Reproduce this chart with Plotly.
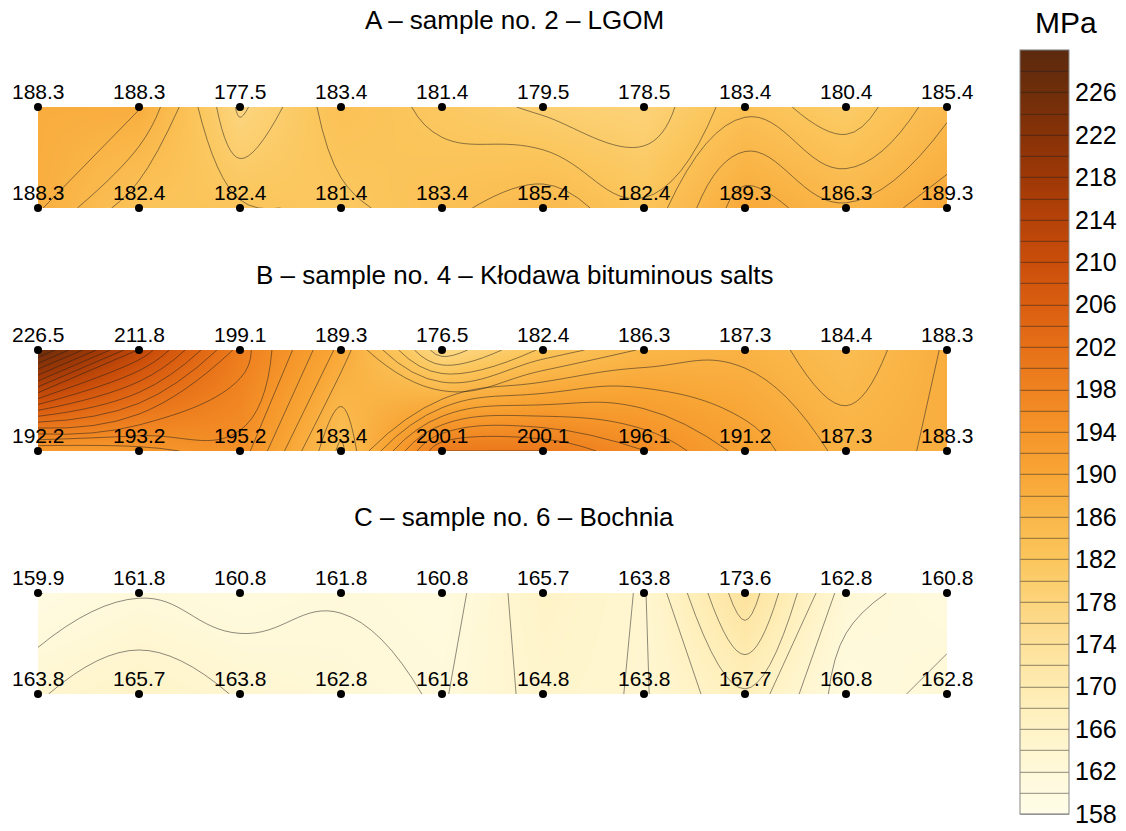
import plotly.graph_objects as go

# ---- data ----
x_pos = list(range(10))
a_top = [188.3, 188.3, 177.5, 183.4, 181.4, 179.5, 178.5, 183.4, 180.4, 185.4]
a_bottom = [188.3, 182.4, 182.4, 181.4, 183.4, 185.4, 182.4, 189.3, 186.3, 189.3]
b_top = [226.5, 211.8, 199.1, 189.3, 176.5, 182.4, 186.3, 187.3, 184.4, 188.3]
b_bottom = [192.2, 193.2, 195.2, 183.4, 200.1, 200.1, 196.1, 191.2, 187.3, 188.3]
c_top = [159.9, 161.8, 160.8, 161.8, 160.8, 165.7, 163.8, 173.6, 162.8, 160.8]
c_bottom = [163.8, 165.7, 163.8, 162.8, 161.8, 164.8, 163.8, 167.7, 160.8, 162.8]
titles = ["A \u2013 sample no. 2 \u2013 LGOM",
          "B \u2013 sample no. 4 \u2013 K\u0142odawa bituminous salts",
          "C \u2013 sample no. 6 \u2013 Bochnia"]
cb_ticks = list(range(158, 227, 4))

W, H = 1126, 831
FONT = "Liberation Sans, Arial, sans-serif"

colorscale = [
    [0.0, "#FFFDE8"], [0.0556, "#FFF9DA"], [0.111, "#FFF3C6"], [0.1667, "#FEEBB0"],
    [0.222, "#FDE19A"], [0.278, "#FCD47C"], [0.333, "#FBC65C"], [0.389, "#FAB74A"],
    [0.444, "#F8A636"], [0.5, "#F5952A"], [0.556, "#EF8220"], [0.611, "#E67018"],
    [0.667, "#DA5E10"], [0.722, "#CA4E0A"], [0.778, "#B54208"], [0.833, "#9E3806"],
    [0.889, "#873208"], [0.944, "#6F2E0A"], [1.0, "#5C2A0E"],
]

strips = [(a_top, a_bottom, 107, 208, 20),
          (b_top, b_bottom, 350, 451, 275),
          (c_top, c_bottom, 593, 694, 517)]

fig = go.Figure()
x0_px, x1_px = 38, 947

for i, (top, bot, ytop_px, ybot_px, ttl_px) in enumerate(strips):
    n = "" if i == 0 else str(i + 1)
    xa, ya = "x" + n, "y" + n
    fig.add_trace(go.Contour(
        x=x_pos, y=[0, 1], z=[bot, top],
        xaxis=xa, yaxis=ya,
        colorscale=colorscale, zmin=158, zmax=230, zauto=False,
        autocontour=False,
        contours=dict(start=158, end=230, size=2, coloring="heatmap", showlines=True),
        line=dict(color="rgba(30,30,30,0.85)", width=0.6, smoothing=1.3),
        showscale=(i == 0),
        colorbar=dict(
            x=1020 / W, xanchor="left", xpad=0,
            y=1 - 432 / H, yanchor="middle", ypad=0,
            len=764, lenmode="pixels", thickness=49, thicknessmode="pixels",
            outlinecolor="#888888", outlinewidth=1,
            tickvals=cb_ticks, ticks="", ticklen=0,
            ticklabeloverflow="allow",
            tickfont=dict(family=FONT, size=25, color="black"),
        ),
        hoverinfo="skip",
    ))
    fig.add_trace(go.Scatter(
        x=x_pos + x_pos, y=[1] * 10 + [0] * 10,
        xaxis=xa, yaxis=ya,
        mode="markers",
        marker=dict(color="black", size=8),
        cliponaxis=False, showlegend=False, hoverinfo="skip",
    ))
    for yv, vals in ((1, top), (0, bot)):
        for xv, v in zip(x_pos, vals):
            fig.add_annotation(x=xv, y=yv, xref=xa, yref=ya, text=f"{v:.1f}",
                               showarrow=False, xanchor="center", yanchor="bottom",
                               yshift=2, font=dict(family=FONT, size=21, color="black"))
    dom_x = [x0_px / W, x1_px / W]
    dom_y = [1 - ybot_px / H, 1 - ytop_px / H]
    fig.layout["xaxis" + n] = dict(domain=dom_x, range=[0, 9], visible=False,
                                   anchor=ya, fixedrange=True)
    fig.layout["yaxis" + n] = dict(domain=dom_y, range=[0, 1], visible=False,
                                   anchor=xa, fixedrange=True)
    fig.add_annotation(text=titles[i], xref="paper", yref="paper",
                       x=514 / W, y=1 - ttl_px / H, xanchor="center", yanchor="middle",
                       showarrow=False, font=dict(family=FONT, size=26, color="black"))

fig.add_annotation(text="MPa", xref="paper", yref="paper",
                   x=1066 / W, y=1 - 23 / H, xanchor="center", yanchor="middle",
                   showarrow=False, font=dict(family=FONT, size=30, color="black"))

fig.update_layout(width=W, height=H, margin=dict(l=0, r=0, t=0, b=0),
                  paper_bgcolor="white", plot_bgcolor="white", showlegend=False)

fig.write_html("out.html")
